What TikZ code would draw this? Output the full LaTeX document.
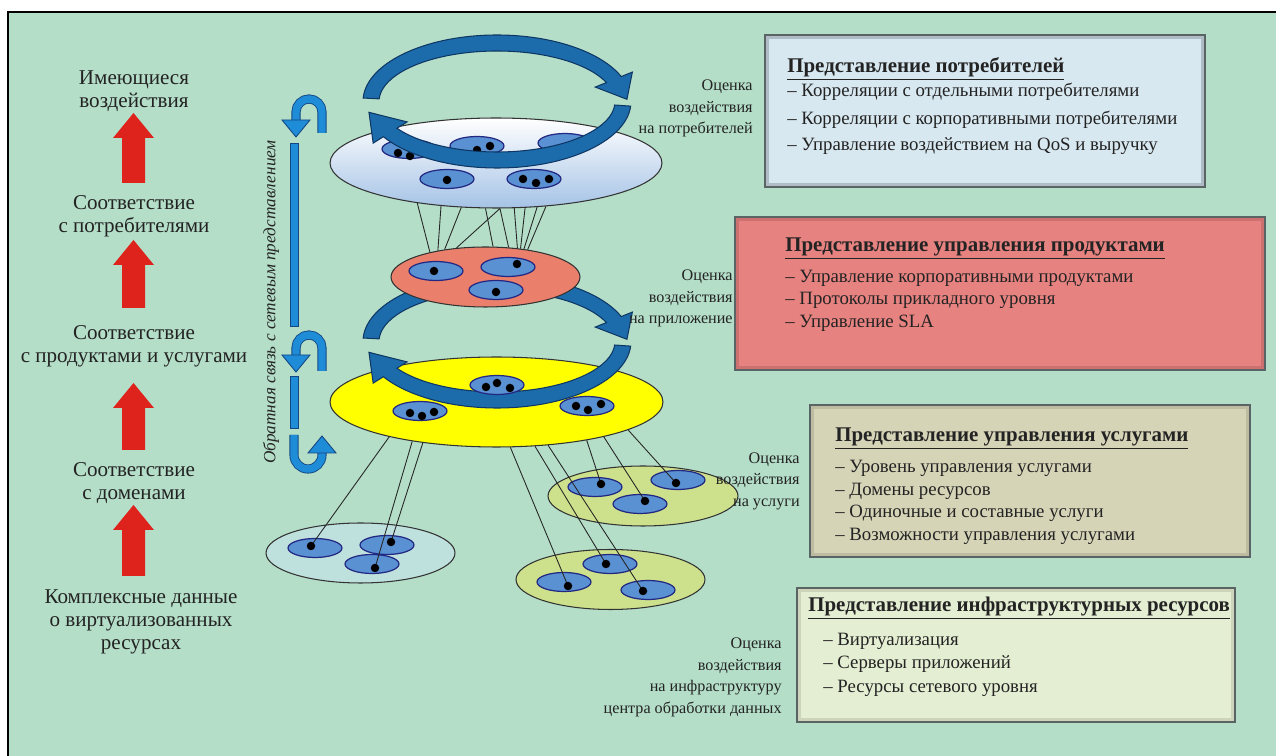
\documentclass[tikz,border=0pt]{standalone}
\usepackage{fontspec}
\setmainfont{Liberation Serif}
\usetikzlibrary{shapes.geometric}

\definecolor{bggreen}{RGB}{180,222,200}
\definecolor{txtdark}{RGB}{35,35,35}
\definecolor{arrowred}{RGB}{222,34,28}
\definecolor{consblue}{RGB}{165,195,230}
\definecolor{cellblue}{RGB}{90,145,210}
\definecolor{cellborder}{RGB}{35,40,130}
\definecolor{prodred}{RGB}{234,128,108}
\definecolor{servyellow}{RGB}{255,255,0}
\definecolor{resblue}{RGB}{190,225,222}
\definecolor{resgreen}{RGB}{205,225,140}
\definecolor{ringblue}{RGB}{28,108,172}
\definecolor{ringedge}{RGB}{15,55,100}
\definecolor{fbblue}{RGB}{30,140,215}
\definecolor{fbedge}{RGB}{20,70,130}
\definecolor{panelline}{RGB}{90,100,100}
\definecolor{bandA}{RGB}{175,188,198}
\definecolor{fillA}{RGB}{216,232,240}
\definecolor{bandB}{RGB}{205,112,112}
\definecolor{fillB}{RGB}{230,130,128}
\definecolor{bandC}{RGB}{190,188,160}
\definecolor{fillC}{RGB}{214,212,183}
\definecolor{bandD}{RGB}{205,212,185}
\definecolor{fillD}{RGB}{228,238,210}

% block arrow on an ellipse: centre x, centre y, from, head base, tip
\newcommand{\ringarrow}[5]{%
  \begin{scope}[shift={(#1,#2)}]
    \filldraw[ringarrow] (#3:134 and 66.5) arc[start angle=#3, end angle=#4, x radius=134, y radius=66.5]
      -- (#4:146 and 78.5) -- (#5:130 and 62.5) -- (#4:106 and 38.5)
      -- (#4:118 and 50.5) arc[start angle=#4, end angle=#3, x radius=118, y radius=50.5] -- cycle;
  \end{scope}}

\begin{document}
\begin{tikzpicture}[x=0.02cm, y=-0.02cm,
  lefttext/.style={align=center, font=\fontsize{12}{13}\selectfont, text=txtdark, inner sep=0pt},
  evaltext/.style={align=right, font=\fontsize{9.2}{12.2}\selectfont, text=txtdark, inner sep=0pt, anchor=east},
  redarrow/.style={fill=arrowred},
  bigell/.style={ellipse, draw=black!80, line width=0.6pt, inner sep=0pt},
  cell/.style={ellipse, draw=cellborder, line width=0.7pt, fill=cellblue, minimum width=1.08cm, minimum height=0.38cm, inner sep=0pt},
  dot/.style={circle, fill=black, minimum size=0.17cm, inner sep=0pt},
  wire/.style={draw=black!85, line width=0.5pt},
  ringarrow/.style={fill=ringblue, draw=ringedge, line width=0.6pt},
  fbline/.style={draw=fbedge, double=fbblue, double distance=4.2pt, line width=0.5pt},
  fbhead/.style={fill=fbblue, draw=fbedge, line width=0.5pt},
  panel/.style={draw=panelline, line width=0.7pt, inner sep=0pt},
  titletext/.style={font=\fontsize{11.9}{13}\selectfont\bfseries, text=txtdark, anchor=west, inner sep=0pt, text height=1.5ex, text depth=0.3ex},
  itemtext/.style={font=\fontsize{10.7}{13}\selectfont, text=txtdark, anchor=west, inner sep=0pt, text height=1.5ex, text depth=0.3ex}
]
\useasboundingbox (0,0) rectangle (1276,756);
\fill[white] (0,0) rectangle (1276,756);
\fill[bggreen] (8,12) rectangle (1276,756);
\draw[black, line width=1.2pt] (8,756) -- (8,12) -- (1276,12);

% left column
\node[lefttext] (lvl1) at (134,91.5) {Имеющиеся\\воздействия};
\node[lefttext] (lvl2) at (134,216.5) {Соответствие\\с потребителями};
\node[lefttext] (lvl3) at (134,346.5) {Соответствие\\с продуктами и услугами};
\node[lefttext] (lvl4) at (134,483) {Соответствие\\с доменами};
\node[lefttext] (lvl5) at (141,622) {Комплексные данные\\о виртуализованных\\ресурсах};
\foreach \ya/\yb in {113/183, 240/308, 383/450, 505/576}
  \fill[redarrow] (122,\yb) -- (122,\ya+25) -- (113,\ya+25) -- (133.5,\ya) -- (154,\ya+25) -- (145,\ya+25) -- (145,\yb) -- cycle;

% feedback arrows
\node[rotate=90, font=\fontsize{9.8}{12}\selectfont\itshape, text=txtdark, inner sep=0pt] (fbtext) at (271,302) {Обратная связь с сетевым представлением};
\draw[fbline] (322,133) -- (322,112) arc[start angle=0, end angle=-180, radius=13] -- (296,121);
\filldraw[fbhead] (282,120) -- (310,120) -- (296,137) -- cycle;
\filldraw[fbhead] (290,143) rectangle (298,326);
\draw[fbline] (322,371) -- (322,348) arc[start angle=0, end angle=-180, radius=13] -- (296,356);
\filldraw[fbhead] (282,355) -- (310,355) -- (296,372) -- cycle;
\filldraw[fbhead] (290,376) rectangle (298,428);
\draw[fbline] (294,435) -- (294,455) arc[start angle=180, end angle=0, radius=14] -- (322,452);
\filldraw[fbhead] (308,453) -- (336,453) -- (322,436) -- cycle;

% customer level
\node[bigell, top color=white, bottom color=consblue, minimum width=6.64cm, minimum height=1.8cm] (cons) at (496,163) {};
\foreach \n/\x/\y in {ca/409/149, cb/477/146, cc/565/143, cd/447/179, ce/534/179}
  \node[cell] (\n) at (\x,\y) {};
\foreach \x/\y [count=\i] in {398/153, 410/156, 477/150, 490/146, 567/147, 580/142, 447/180, 523/179, 536/183, 549/179}
  \node[dot] (cdot\i) at (\x,\y) {};
\ringarrow{497}{101.5}{183}{338}{358}
\ringarrow{497}{101.5}{4}{148}{170}

% product level
\ringarrow{497}{341.5}{183}{338}{358}
\node[bigell, fill=prodred, minimum width=3.78cm, minimum height=1.2cm] (prod) at (485.5,277) {};
\foreach \n/\x/\y in {pa/436/271, pb/508/267, pc/496/290}
  \node[cell] (\n) at (\x,\y) {};
\foreach \x/\y [count=\i] in {434/271, 517/264, 496/292}
  \node[dot] (pdot\i) at (\x,\y) {};
\foreach \a/\b in {207/156, 218/151, 232/146, 275/135, 257/76, 275/52, 292/42, 303/39, 313/36, 319/33}
  \draw[wire] (cons.\a) -- (prod.\b);

% service level
\node[bigell, fill=servyellow, minimum width=6.66cm, minimum height=1.8cm] (serv) at (496.5,402) {};
\ringarrow{497}{341.5}{4}{148}{170}
\foreach \n/\x/\y in {sa/497/385, sb/420/411, sc/587/406}
  \node[cell] (\n) at (\x,\y) {};
\foreach \x/\y [count=\i] in {486/387, 497/383, 510/388, 410/413, 422/416, 434/412, 576/406, 588/410, 601/404}
  \node[dot] (sdot\i) at (\x,\y) {};

% resource domains
\node[bigell, fill=resblue, minimum width=3.78cm, minimum height=1.2cm] (resL) at (360.5,553) {};
\node[bigell, fill=resgreen, minimum width=3.78cm, minimum height=1.2cm] (resR) at (610.5,579.5) {};
\node[bigell, fill=resgreen, minimum width=3.8cm, minimum height=1.2cm] (resU) at (643,496) {};
\foreach \n/\x/\y in {lA/315/548, lB/387/545, lC/372/564, rA/564/582, rB/610/564, rC/648/590, uA/595/487, uB/640/504, uC/678/480}
  \node[cell] (\n) at (\x,\y) {};
\foreach \n/\x/\y in {ldA/311/546, ldB/391/542, ldC/375/568, rdA/568/586, rdB/606/564, rdC/643/591, udA/601/484, udB/645/501, udC/676/483}
  \coordinate (\n) at (\x,\y);
\foreach \a/\d in {198/ldA, 205/ldC, 209/ldB, 287/rdA, 311/rdB, 320/rdC, 337/udA, 342/udB, 348/udC}
  \draw[wire] (serv.\a) -- (\d);
\foreach \d in {ldA, ldB, ldC, rdA, rdB, rdC, udA, udB, udC}
  \node[dot] (\d dot) at (\d) {};

% impact labels
\node[evaltext] (evc) at (753,108.5) {Оценка\\воздействия\\на потребителей};
\node[evaltext] (evp) at (733,298.5) {Оценка\\воздействия\\на приложение};
\node[evaltext] (evs) at (800,481) {Оценка\\воздействия\\на услуги};
\node[evaltext] (evi) at (782,677.5) {Оценка\\воздействия\\на инфраструктуру\\центра обработки данных};

% panels
\node[panel, fill=bandA, minimum width=8.8cm, minimum height=3.04cm] (custP) at (985,111) {};
\fill[fillA] ([shift={(5,5)}]custP.north west) rectangle ([shift={(-5,-5)}]custP.south east);
\node[titletext] (custT) at (787,68) {\underline{Представление потребителей}};
\foreach \y/\s [count=\i] in {92/{Корреляции с отдельными потребителями}, 120/{Корреляции с корпоративными потребителями}, 146/{Управление воздействием на QoS и выручку}}
  \node[itemtext] (custI\i) at (787,\y) {– \s};

\node[panel, fill=bandB, minimum width=10.6cm, minimum height=3.06cm] (prodP) at (1000,293.5) {};
\fill[fillB] ([shift={(5,5)}]prodP.north west) rectangle ([shift={(-5,-5)}]prodP.south east);
\node[titletext] (prodT) at (785,247) {\underline{Представление управления продуктами}};
\foreach \y/\s [count=\i] in {278/{Управление корпоративными продуктами}, 300/{Протоколы прикладного уровня}, 323/{Управление SLA}}
  \node[itemtext] (prodI\i) at (785,\y) {– \s};

\node[panel, fill=bandC, minimum width=8.8cm, minimum height=3.04cm] (servP) at (1030,481) {};
\fill[fillC] ([shift={(5,5)}]servP.north west) rectangle ([shift={(-5,-5)}]servP.south east);
\node[titletext] (servT) at (835,437) {\underline{Представление управления услугами}};
\foreach \y/\s [count=\i] in {468/{Уровень управления услугами}, 491/{Домены ресурсов}, 513/{Одиночные и составные услуги}, 536/{Возможности управления услугами}}
  \node[itemtext] (servI\i) at (835,\y) {– \s};

\node[panel, fill=bandD, minimum width=8.76cm, minimum height=2.68cm] (infraP) at (1016,655) {};
\fill[fillD] ([shift={(5,5)}]infraP.north west) rectangle ([shift={(-5,-5)}]infraP.south east);
\node[titletext] (infraT) at (808,607) {\underline{Представление инфраструктурных ресурсов}};
\foreach \y/\s [count=\i] in {641/{Виртуализация}, 664/{Серверы приложений}, 688/{Ресурсы сетевого уровня}}
  \node[itemtext] (infraI\i) at (823,\y) {– \s};
\end{tikzpicture}
\end{document}
